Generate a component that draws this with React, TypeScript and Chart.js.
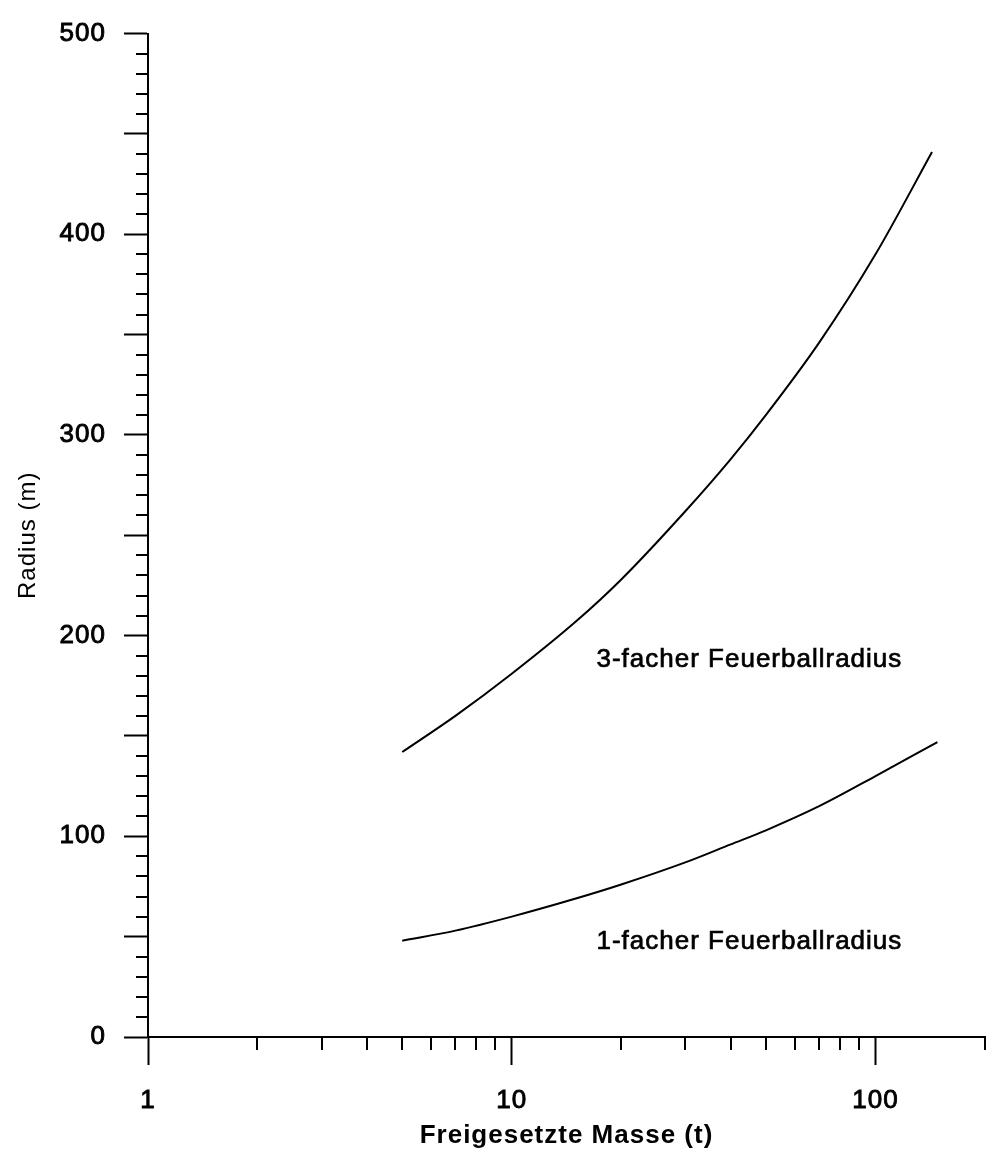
import { useEffect, useRef } from 'react';
import { Chart, registerables } from 'chart.js';

Chart.register(...registerables);

// Curve data (mass in t, radius in m)
const massUpper = [5, 7, 10, 15, 20, 30, 40, 50, 70, 100, 143];
const radius3fach = [142, 160, 181, 207, 228, 262, 288, 310, 346, 390, 441];
const massLower = [5, 7, 10, 15, 20, 30, 40, 50, 70, 100, 148];
const radius1fach = [48, 53, 60, 69, 76, 87, 96, 103, 115, 130, 147];

// Axis ticks
const xMajorTicks = [1, 10, 100];
const xMinorTicks = [2, 3, 4, 5, 6, 7, 8, 9, 20, 30, 40, 50, 60, 70, 80, 90, 200];
const yMajorTicks = [0, 50, 100, 150, 200, 250, 300, 350, 400, 450, 500];
const yLabelTicks = [0, 100, 200, 300, 400, 500];
const yMinorTicks = [
  10, 20, 30, 40, 60, 70, 80, 90, 110, 120, 130, 140, 160, 170, 180, 190,
  210, 220, 230, 240, 260, 270, 280, 290, 310, 320, 330, 340, 360, 370, 380, 390,
  410, 420, 430, 440, 460, 470, 480, 490,
];

const xTitle = 'Freigesetzte Masse (t)';
const yTitle = 'Radius (m)';
const curveLabels = [
  { text: '3-facher Feuerballradius', x: 17.1, y: 184.4 },
  { text: '1-facher Feuerballradius', x: 17.1, y: 43.9 },
];

const FONT = '"Liberation Sans", Arial, Helvetica, sans-serif';
const SPACING = '1px';

const spacingPlugin = {
  id: 'spacing',
  beforeUpdate(chart: any) {
    chart.ctx.letterSpacing = SPACING;
  },
  beforeDraw(chart: any) {
    chart.ctx.letterSpacing = SPACING;
  },
};

const decorPlugin = {
  id: 'decor',
  afterDraw(chart: any) {
    const { ctx, chartArea } = chart;
    const x = chart.scales.x;
    const y = chart.scales.y;
    ctx.save();
    ctx.strokeStyle = '#000';
    ctx.lineWidth = 2;
    ctx.beginPath();
    for (const v of yMinorTicks) {
      const py = Math.round(y.getPixelForValue(v));
      ctx.moveTo(chartArea.left - 12, py);
      ctx.lineTo(chartArea.left, py);
    }
    for (const v of xMinorTicks) {
      const px = Math.round(x.getPixelForValue(v));
      ctx.moveTo(px, chartArea.bottom);
      ctx.lineTo(px, chartArea.bottom + 13);
    }
    ctx.stroke();
    ctx.letterSpacing = SPACING;
    ctx.font = `26px ${FONT}`;
    ctx.fillStyle = '#000';
    ctx.strokeStyle = '#000';
    ctx.lineWidth = 0.7;
    ctx.textAlign = 'left';
    ctx.textBaseline = 'alphabetic';
    for (const l of curveLabels) {
      const px = x.getPixelForValue(l.x);
      const py = y.getPixelForValue(l.y);
      ctx.fillText(l.text, px, py);
      ctx.strokeText(l.text, px, py);
    }
    ctx.restore();
  },
};

export default function App() {
  const ref = useRef<HTMLCanvasElement>(null);

  useEffect(() => {
    document.body.style.margin = '0';
    const canvas = ref.current;
    if (!canvas) return;
    const chart = new Chart(canvas, {
      type: 'line',
      data: {
        datasets: [
          {
            label: '3-facher Feuerballradius',
            data: massUpper.map((m, i) => ({ x: m, y: radius3fach[i] })),
            borderColor: '#000',
            borderWidth: 2,
            pointRadius: 0,
            fill: false,
            cubicInterpolationMode: 'monotone',
          },
          {
            label: '1-facher Feuerballradius',
            data: massLower.map((m, i) => ({ x: m, y: radius1fach[i] })),
            borderColor: '#000',
            borderWidth: 2,
            pointRadius: 0,
            fill: false,
            cubicInterpolationMode: 'monotone',
          },
        ],
      },
      options: {
        responsive: false,
        animation: false,
        devicePixelRatio: 1,
        layout: { padding: { left: 0, right: 3, top: 23, bottom: 0 } },
        plugins: {
          legend: { display: false },
          tooltip: { enabled: false },
          title: { display: false },
        },
        scales: {
          x: {
            type: 'logarithmic',
            min: 1,
            max: 200,
            afterBuildTicks: (s: any) => {
              s.ticks = xMajorTicks.map((v) => ({ value: v }));
            },
            afterFit: (s: any) => {
              s.height = 115;
            },
            border: { display: true, color: '#000', width: 2 },
            grid: {
              display: true,
              drawOnChartArea: false,
              drawTicks: true,
              tickLength: 28,
              tickWidth: 2,
              tickColor: '#000',
              color: '#000',
            },
            ticks: {
              autoSkip: false,
              maxRotation: 0,
              padding: 20,
              color: '#000',
              textStrokeColor: '#000',
              textStrokeWidth: 0.9,
              font: { family: FONT, size: 26 },
              callback: (v: any) => String(v),
            },
            title: {
              display: true,
              text: xTitle,
              color: '#000',
              font: { family: FONT, size: 26, weight: 'bold' },
              padding: { top: 0, bottom: 1 },
            },
          },
          y: {
            type: 'linear',
            min: 0,
            max: 500,
            afterBuildTicks: (s: any) => {
              s.ticks = yMajorTicks.map((v) => ({ value: v }));
            },
            afterFit: (s: any) => {
              s.width = 148;
            },
            border: { display: true, color: '#000', width: 2 },
            grid: {
              display: true,
              drawOnChartArea: false,
              drawTicks: true,
              tickLength: 24,
              tickWidth: 2,
              tickColor: '#000',
              color: '#000',
            },
            ticks: {
              autoSkip: false,
              padding: 18,
              color: '#000',
              textStrokeColor: '#000',
              textStrokeWidth: 0.9,
              font: { family: FONT, size: 26 },
              callback: (v: any) => (yLabelTicks.includes(Number(v)) ? String(v) : ''),
            },
            title: {
              display: true,
              text: yTitle,
              color: '#000',
              font: { family: FONT, size: 24 },
              padding: { top: 14, bottom: 0 },
            },
          },
        },
      } as any,
      plugins: [spacingPlugin, decorPlugin],
    });
    return () => chart.destroy();
  }, []);

  return (
    <div style={{ width: 988, height: 1152 }}>
      <canvas ref={ref} width={988} height={1152} style={{ display: 'block' }} />
    </div>
  );
}
